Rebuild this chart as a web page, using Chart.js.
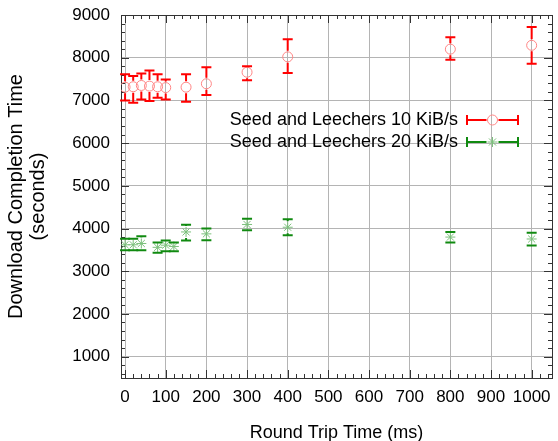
<!DOCTYPE html>
<html lang="en">
<head>
  <meta charset="UTF-8" />
  <title>Download Completion Time vs Round Trip Time</title>
  <script src="https://cdn.jsdelivr.net/npm/chart.js"></script>
  <style>
    html, body { margin: 0; padding: 0; background: #fff; }
    #wrap { width: 558px; height: 441px; }
  </style>
</head>
<body>
  <div id="wrap"><canvas id="chart" width="558" height="441"></canvas></div>

  <script>
    // 10 KiB/s series (mean, lower and upper error bound)
    const rttSlow  = [0, 20, 40, 60, 80, 100, 150, 200, 300, 400, 800, 1000];
    const timeSlow = [7310, 7320, 7350, 7335, 7320, 7300, 7310, 7390, 7660, 8020, 8200, 8290];
    const lowSlow  = [7000, 6945, 7020, 6985, 7060, 7020, 6970, 7125, 7475, 7640, 7950, 7860];
    const highSlow = [7610, 7570, 7630, 7700, 7610, 7490, 7610, 7775, 7800, 8430, 8480, 8720];

    // 20 KiB/s series
    const rttFast  = [0, 20, 40, 80, 100, 120, 150, 200, 300, 400, 800, 1000];
    const timeFast = [3620, 3620, 3650, 3560, 3610, 3580, 3920, 3875, 4095, 4030, 3800, 3755];
    const lowFast  = [3490, 3490, 3490, 3430, 3470, 3470, 3720, 3725, 3960, 3840, 3675, 3605];
    const highFast = [3760, 3760, 3820, 3670, 3720, 3670, 4090, 4000, 4230, 4215, 3920, 3900];

    const seriesLabels = ['Seed and Leechers 10 KiB/s', 'Seed and Leechers 20 KiB/s'];
    const xTicks = [0, 100, 200, 300, 400, 500, 600, 700, 800, 900, 1000];
    const yTicks = [1000, 2000, 3000, 4000, 5000, 6000, 7000, 8000, 9000];

    const FONT = "'Liberation Sans', Arial, Helvetica, sans-serif";
    const FRAME = '#333';

    // box round the plot, with gnuplot-like inward ticks
    const framePlugin = {
      id: 'frame',
      beforeDatasetsDraw(chart) {
        const { ctx, chartArea: a, scales: { x, y } } = chart;
        ctx.save();
        ctx.strokeStyle = FRAME;
        ctx.lineWidth = 1;
        ctx.beginPath();
        for (let v = 0; v <= 1040; v += 20) {
          const px = Math.round(x.getPixelForValue(v)) + 0.5;
          const len = v % 100 === 0 ? 8 : 4;
          ctx.moveTo(px, a.bottom); ctx.lineTo(px, a.bottom - len);
          ctx.moveTo(px, a.top); ctx.lineTo(px, a.top + len);
        }
        for (let v = 600; v <= 9000; v += 200) {
          const py = Math.round(y.getPixelForValue(v)) + 0.5;
          const len = v % 1000 === 0 ? 8 : 4;
          ctx.moveTo(a.left, py); ctx.lineTo(a.left + len, py);
          ctx.moveTo(a.right, py); ctx.lineTo(a.right - len, py);
        }
        ctx.stroke();
        ctx.strokeRect(Math.round(a.left) + 0.5, Math.round(a.top) + 0.5,
          Math.round(a.right - a.left), Math.round(a.bottom - a.top));
        ctx.restore();
      }
    };

    function drawBar(ctx, px, pyTop, pyBot, pyMid, gap, cap) {
      ctx.beginPath();
      if (pyMid - gap > pyTop) { ctx.moveTo(px, pyTop); ctx.lineTo(px, pyMid - gap); }
      if (pyMid + gap < pyBot) { ctx.moveTo(px, pyMid + gap); ctx.lineTo(px, pyBot); }
      ctx.moveTo(px - cap, pyTop); ctx.lineTo(px + cap, pyTop);
      ctx.moveTo(px - cap, pyBot); ctx.lineTo(px + cap, pyBot);
      ctx.stroke();
    }

    const errorBarPlugin = {
      id: 'errorBars',
      afterDatasetsDraw(chart) {
        const { ctx, scales: { x, y } } = chart;
        ctx.save();
        chart.data.datasets.forEach(ds => {
          ctx.strokeStyle = ds.barColor;
          ctx.lineWidth = 2;
          ds.data.forEach((p, i) => {
            const px = x.getPixelForValue(p.x);
            drawBar(ctx, px, y.getPixelForValue(ds.errHigh[i]), y.getPixelForValue(ds.errLow[i]),
              y.getPixelForValue(p.y), 6, 5);
          });
        });
        ctx.restore();
      }
    };

    // legend inside the plot: text right-aligned, then sample bar with marker
    const keyPlugin = {
      id: 'key',
      afterDraw(chart) {
        const { ctx, chartArea: a } = chart;
        ctx.save();
        ctx.font = '18px ' + FONT;
        ctx.textAlign = 'right';
        ctx.textBaseline = 'middle';
        chart.data.datasets.forEach((ds, i) => {
          const yy = a.top + 105 + i * 22;
          const textRight = a.right - 94;
          const x0 = a.right - 85, x1 = a.right - 34, xm = (x0 + x1) / 2;
          ctx.fillStyle = '#000';
          ctx.fillText(ds.label, textRight, yy);
          ctx.strokeStyle = ds.barColor;
          ctx.lineWidth = 2;
          ctx.beginPath();
          ctx.moveTo(x0, yy); ctx.lineTo(xm - 6, yy);
          ctx.moveTo(xm + 6, yy); ctx.lineTo(x1, yy);
          ctx.moveTo(x0, yy - 5); ctx.lineTo(x0, yy + 5);
          ctx.moveTo(x1, yy - 5); ctx.lineTo(x1, yy + 5);
          ctx.stroke();
          ctx.strokeStyle = ds.borderColor;
          ctx.lineWidth = 1;
          ctx.beginPath();
          const r = ds.pointRadius;
          if (ds.pointStyle === 'circle') {
            ctx.arc(xm, yy, r, 0, Math.PI * 2);
          } else {
            ctx.moveTo(xm - r, yy); ctx.lineTo(xm + r, yy);
            ctx.moveTo(xm, yy - r); ctx.lineTo(xm, yy + r);
            const d = r * Math.SQRT1_2;
            ctx.moveTo(xm - d, yy - d); ctx.lineTo(xm + d, yy + d);
            ctx.moveTo(xm - d, yy + d); ctx.lineTo(xm + d, yy - d);
          }
          ctx.stroke();
        });
        ctx.restore();
      }
    };

    const toPoints = (xs, ys) => xs.map((v, i) => ({ x: v, y: ys[i] }));

    new Chart(document.getElementById('chart').getContext('2d'), {
      type: 'scatter',
      data: {
        datasets: [
          {
            label: seriesLabels[0],
            data: toPoints(rttSlow, timeSlow),
            errLow: lowSlow, errHigh: highSlow,
            barColor: '#ff0000',
            pointStyle: 'circle', pointRadius: 5,
            borderColor: '#ff8585', backgroundColor: 'rgba(0,0,0,0)', borderWidth: 1
          },
          {
            label: seriesLabels[1],
            data: toPoints(rttFast, timeFast),
            errLow: lowFast, errHigh: highFast,
            barColor: '#108a10',
            pointStyle: 'star', pointRadius: 5,
            borderColor: '#7cc07c', backgroundColor: 'rgba(0,0,0,0)', borderWidth: 1
          }
        ]
      },
      options: {
        responsive: false,
        animation: false,
        events: [],
        layout: { padding: { top: 15, right: 2, left: 0, bottom: 0 } },
        plugins: { legend: { display: false }, tooltip: { enabled: false } },
        scales: {
          x: {
            type: 'linear', min: -10, max: 1050,
            afterBuildTicks: s => { s.ticks = xTicks.map(v => ({ value: v })); },
            afterFit: s => { s.height = 63; s.paddingRight = 0; s.paddingLeft = 0; },
            grid: { color: '#b4b4b4', drawTicks: false },
            border: { display: false },
            ticks: {
              color: '#000', font: { family: FONT, size: 17 }, padding: 9,
              maxRotation: 0, autoSkip: false, callback: v => String(v)
            },
            title: {
              display: true, text: 'Round Trip Time (ms)', color: '#000',
              font: { family: FONT, size: 18, lineHeight: 1 }, padding: { top: 0, bottom: -1 }
            }
          },
          y: {
            type: 'linear', min: 500, max: 9000,
            afterBuildTicks: s => { s.ticks = yTicks.map(v => ({ value: v })); },
            afterFit: s => { s.width = 121; s.paddingTop = 0; s.paddingBottom = 0; },
            grid: { color: '#b4b4b4', drawTicks: false },
            border: { display: false },
            ticks: {
              color: '#000', font: { family: FONT, size: 17 }, padding: 11,
              autoSkip: false, callback: v => String(v)
            },
            title: {
              display: true, text: ['Download Completion Time', '(seconds)'], color: '#000',
              font: { family: FONT, size: 20, lineHeight: 1.1 }, padding: { top: 5, bottom: 0 }
            }
          }
        }
      },
      plugins: [framePlugin, errorBarPlugin, keyPlugin]
    });
  </script>
</body>
</html>
